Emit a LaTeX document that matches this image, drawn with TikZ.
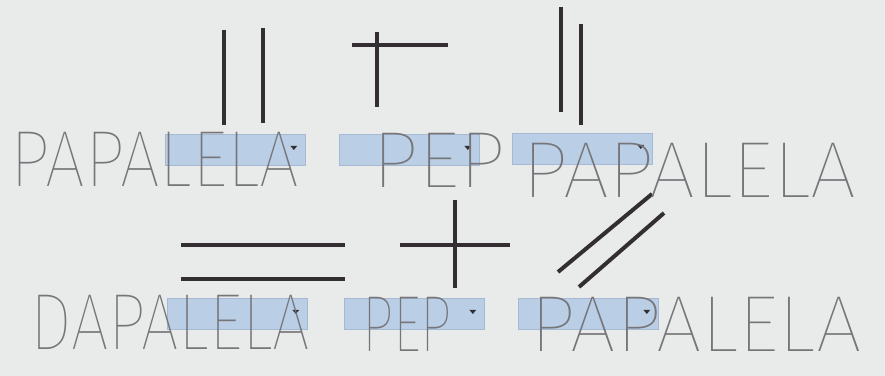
\documentclass[tikz,border=0pt]{standalone}
\usepackage{fontspec}
\IfFontExistsTF{Fira Sans Thin}
  {\newfontfamily\handfont{Fira Sans Thin}}
  {\newfontfamily\handfont{Fira Sans Light}}
\definecolor{PaperClr}{RGB}{233,234,234}
\definecolor{InkClr}{RGB}{50,46,50}
\definecolor{BoxClr}{RGB}{186,207,230}
\definecolor{BoxEdge}{RGB}{165,185,210}
\definecolor{PencilClr}{RGB}{118,118,122}

\begin{document}
\begin{tikzpicture}[x=0.03cm,y=-0.03cm,
  ink/.style={line width=3.4pt,color=InkClr},
  answer/.style={rectangle,draw=BoxEdge,fill=BoxClr,line width=0.8pt,
    minimum width=4.2cm,minimum height=0.92cm,inner sep=0pt},
  hand/.style={anchor=south west,inner sep=0pt,text=PencilClr,
    font=\handfont\fontsize{68}{68}\selectfont}]
\useasboundingbox (0,0) rectangle (885,376);
\fill[PaperClr] (0,0) rectangle (885,376);

% top row
\draw[ink] (224,30) -- (224,125) (263,28) -- (263,123);
\draw[ink] (352,45) -- (448,45) (377,32) -- (377,107);
\draw[ink] (561,7) -- (561,112) (581,24) -- (581,125);

% bottom row
\draw[ink] (181,245) -- (345,245) (181,279) -- (345,279);
\draw[ink] (400,245) -- (510,245) (455,200) -- (455,288);
\draw[ink] (558,272) -- (652,194) (579,287) -- (664,213);

% answer fields
\node[answer] (fieldA) at (235,150) {};
\node[answer] (fieldB) at (409,150) {};
\node[answer] (fieldC) at (582,149) {};
\node[answer] (fieldD) at (237,314) {};
\node[answer] (fieldE) at (414,314) {};
\node[answer] (fieldF) at (588,314) {};
\foreach \f in {fieldA,fieldB,fieldC,fieldD,fieldE,fieldF}
  \fill[InkClr] ([xshift=-0.45cm,yshift=0.12cm]\f.east) -- ++(0.2cm,0)
    -- ++(-0.1cm,-0.12cm) -- cycle;

% handwriting
\node[hand,xscale=0.89] (wordA) at (10,187) {PAPALELA};
\node[hand,xscale=1.04] (wordB) at (372,188) {PEP};
\node[hand,xscale=1.03] (wordC) at (522,198) {PAPALELA};
\node[hand,xscale=0.84] (wordD) at (30,350) {DAPALELA};
\node[hand,xscale=0.70] (wordE) at (362,352) {PEP};
\node[hand,xscale=1.02] (wordF) at (530,352) {PAPALELA};
\end{tikzpicture}
\end{document}
